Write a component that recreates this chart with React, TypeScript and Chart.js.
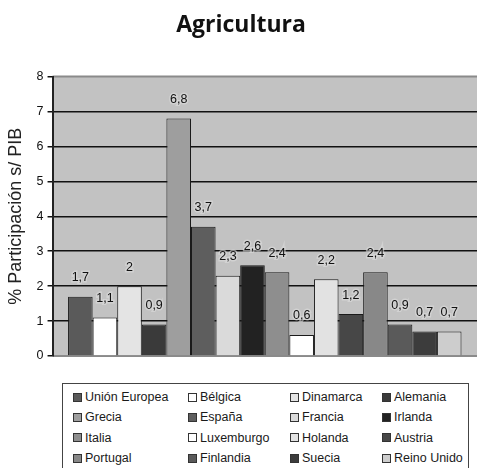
import React, { useEffect, useRef } from "react";
import { Chart, registerables } from "chart.js";

Chart.register(...registerables);

const countries = [
  "Unión Europea", "Bélgica", "Dinamarca", "Alemania",
  "Grecia", "España", "Francia", "Irlanda",
  "Italia", "Luxemburgo", "Holanda", "Austria",
  "Portugal", "Finlandia", "Suecia", "Reino Unido",
];
const values = [1.7, 1.1, 2, 0.9, 6.8, 3.7, 2.3, 2.6, 2.4, 0.6, 2.2, 1.2, 2.4, 0.9, 0.7, 0.7];
const colors = [
  "#5a5a5a", "#ffffff", "#e4e4e4", "#3a3a3a",
  "#9e9e9e", "#5e5e5e", "#dadada", "#222222",
  "#8e8e8e", "#ffffff", "#e2e2e2", "#474747",
  "#888888", "#5a5a5a", "#3c3c3c", "#cdcdcd",
];
const yTicks = [0, 1, 2, 3, 4, 5, 6, 7, 8];
const title = "Agricultura";
const yTitle = "% Participación s/ PIB";

const FONT = "'Liberation Sans', Arial, sans-serif";

const plotBg = {
  id: "plotBg",
  beforeDraw(chart: any) {
    const { ctx, chartArea: a } = chart;
    ctx.save();
    ctx.fillStyle = "#c2c2c2";
    ctx.fillRect(a.left, a.top, a.right - a.left, a.bottom - a.top);
    ctx.strokeStyle = "#8a8a8a";
    ctx.lineWidth = 2;
    ctx.beginPath();
    ctx.moveTo(a.left, a.top);
    ctx.lineTo(a.right, a.top);
    ctx.moveTo(a.left, a.bottom);
    ctx.lineTo(a.right, a.bottom);
    ctx.stroke();
    ctx.restore();
  },
};

const valueLabels = {
  id: "valueLabels",
  afterDatasetsDraw(chart: any) {
    const { ctx } = chart;
    ctx.save();
    ctx.font = `12.5px ${FONT}`;
    ctx.textAlign = "center";
    ctx.textBaseline = "middle";
    chart.data.datasets.forEach((ds: any, i: number) => {
      const meta = chart.getDatasetMeta(i);
      const el = meta.data[0];
      if (!el) return;
      const txt = String(ds.data[0]).replace(".", ",");
      ctx.lineWidth = 3;
      ctx.strokeStyle = "rgba(220,220,220,0.6)";
      ctx.strokeText(txt, el.x, el.y - 19);
      ctx.fillStyle = "#111";
      ctx.fillText(txt, el.x, el.y - 19);
    });
    ctx.restore();
  },
};

export default function App() {
  const ref = useRef<HTMLCanvasElement>(null);

  useEffect(() => {
    if (!ref.current) return;
    const chart = new Chart(ref.current, {
      type: "bar",
      data: {
        labels: [""],
        datasets: countries.map((c, i) => ({
          label: c,
          data: [values[i]],
          backgroundColor: colors[i],
          borderColor: "#1a1a1a",
          borderWidth: 1,
          categoryPercentage: 0.927,
          barPercentage: 1,
        })),
      },
      options: {
        responsive: false,
        animation: false,
        devicePixelRatio: 1,
        layout: { padding: { left: 5, right: 0, top: 0, bottom: 22 } },
        plugins: {
          legend: { display: false },
          tooltip: { enabled: false },
          title: {
            display: true,
            text: title,
            color: "#111",
            font: { family: "'Open Sans', sans-serif", size: 23, weight: "bold" },
            padding: { top: 12, bottom: 37 },
          },
        },
        scales: {
          x: { display: false },
          y: {
            min: 0,
            max: 8,
            afterBuildTicks(scale: any) {
              scale.ticks = yTicks.map((v) => ({ value: v }));
            },
            ticks: {
              color: "#111",
              font: { family: FONT, size: 12.5 },
              padding: 4,
            },
            grid: {
              color: (c: any) => (c.tick && (c.tick.value === 0 || c.tick.value === 8) ? "rgba(0,0,0,0)" : "#111"),
              lineWidth: 1.5,
              borderDash: [2, 2.5],
              tickColor: "#111",
              tickLength: 5,
              tickBorderDash: [],
              drawOnChartArea: true,
            },
            border: { display: true, color: "#222", width: 2 },
            title: {
              display: true,
              text: yTitle,
              color: "#222",
              font: { family: FONT, size: 18 },
              padding: { top: 0, bottom: 6 },
            },
          },
        },
      },
      plugins: [plotBg, valueLabels],
    } as any);
    return () => chart.destroy();
  }, []);

  const cols = ["115px", "102px", "92px", "auto"];

  return (
    <div style={{ position: "fixed", left: 0, top: 0, width: 477, height: 468, background: "#fff", overflow: "hidden" }}>
      <canvas ref={ref} width={477} height={378} style={{ position: "absolute", left: 0, top: 0 }} />
      <div
        style={{
          position: "absolute",
          left: 62,
          top: 383,
          width: 407,
          height: 100,
          border: "1px solid #444",
          boxSizing: "border-box",
          paddingLeft: 10,
          paddingTop: 3,
          display: "grid",
          gridTemplateColumns: cols.join(" "),
          gridAutoRows: "20.3px",
          fontFamily: FONT,
          fontSize: 12.5,
          color: "#1a1a1a",
        }}
      >
        {countries.map((c, i) => (
          <div key={c} style={{ display: "flex", alignItems: "center", whiteSpace: "nowrap" }}>
            <span
              style={{
                display: "inline-block",
                width: 7,
                height: 7,
                background: colors[i],
                border: "1px solid #333",
                marginRight: 3,
              }}
            />
            <span>{c}</span>
          </div>
        ))}
      </div>
    </div>
  );
}
